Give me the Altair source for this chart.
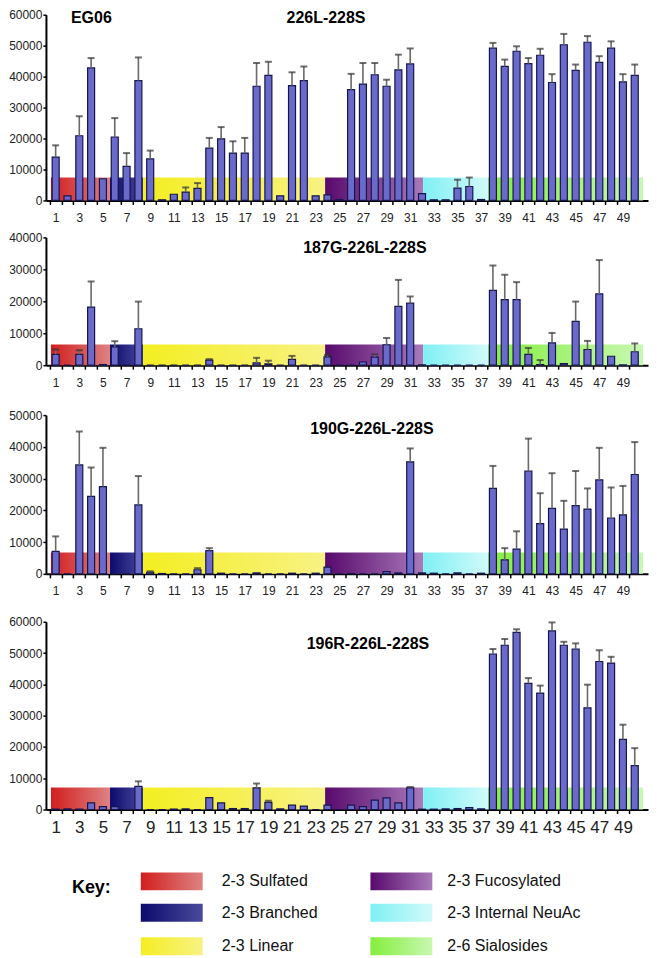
import altair as alt
import pandas as pd

# ---------------- data ----------------
positions = list(range(1, 51))

group_names = ["2-3 Sulfated", "2-3 Branched", "2-3 Linear",
               "2-3 Fucosylated", "2-3 Internal NeuAc", "2-6 Sialosides"]
group_start = [0.6, 5.6, 8.4, 23.8, 32.1, 37.6]
group_end = [5.6, 8.4, 23.8, 32.1, 37.6, 50.7]
grad_left = ["#d21e1e", "#0c0a6c", "#f4ee22", "#58096c", "#7ff0f4", "#84ee3c"]
grad_right = ["#de8282", "#4a4a9c", "#f8f284", "#a97ab9", "#d2fafa", "#c8f8b2"]

panel_titles = ["226L-228S", "187G-226L-228S", "190G-226L-228S", "196R-226L-228S"]
y_max = [60000, 40000, 50000, 60000]
band_top = [7400, 6500, 6700, 7000]

vals_1 = [14000, 1500, 20900, 42800, 7000, 20500, 11000, 38700, 13400, 200,
          2000, 2700, 3900, 16900, 19900, 15300, 15300, 36900, 40400, 1500,
          37100, 38700, 1500, 1800, 300, 35800, 37600, 40600, 36900, 42200,
          44100, 2200, 200, 200, 4000, 4500, 300, 49200, 43300, 48200,
          44200, 46900, 38100, 50300, 42000, 51100, 44600, 49200, 38300, 40400]
errs_1 = [3800, 0, 6300, 3200, 0, 6100, 4300, 7500, 2700, 0,
          0, 1500, 1700, 3300, 3800, 3800, 4900, 7500, 4400, 0,
          4300, 4600, 0, 0, 0, 5100, 6800, 3800, 2100, 4900,
          5000, 0, 0, 0, 2700, 2900, 0, 1700, 2200, 1600,
          1800, 2100, 2700, 3500, 1900, 2000, 2000, 2200, 2500, 3500]

vals_2 = [3400, 0, 3400, 18200, 200, 5700, 0, 11400, 0, 0,
          0, 0, 0, 1600, 0, 0, 0, 700, 400, 0,
          1800, 0, 0, 2600, 0, 0, 1000, 2500, 6400, 18400,
          19400, 100, 0, 0, 0, 0, 0, 23400, 20500, 20500,
          3400, 200, 7000, 500, 13700, 4900, 22300, 2800, 100, 4200]
errs_2 = [1500, 0, 1300, 8000, 0, 1800, 0, 8500, 0, 0,
          0, 0, 0, 300, 0, 0, 0, 1600, 1000, 0,
          1100, 0, 0, 600, 0, 0, 0, 900, 2100, 8300,
          2100, 0, 0, 0, 0, 0, 0, 7800, 7800, 5500,
          2000, 1400, 3100, 0, 6200, 2700, 10600, 0, 0, 2600]

vals_3 = [7100, 0, 34300, 24400, 27500, 0, 0, 21700, 500, 100,
          0, 0, 1300, 7300, 200, 0, 0, 300, 0, 0,
          200, 0, 200, 2100, 0, 100, 0, 0, 700, 300,
          35300, 300, 200, 0, 300, 0, 200, 26900, 4400, 7800,
          32400, 15800, 20600, 14100, 21500, 20400, 29600, 17600, 18600, 31300]
errs_3 = [4700, 0, 10500, 9100, 12200, 0, 0, 9100, 300, 0,
          0, 0, 500, 800, 0, 0, 0, 0, 0, 0,
          0, 0, 0, 0, 0, 0, 0, 0, 0, 0,
          4200, 0, 0, 0, 0, 0, 0, 7100, 3700, 5600,
          10200, 9600, 11100, 8900, 10900, 6500, 10100, 9600, 9100, 10200]

vals_4 = [100, 200, 100, 2100, 900, 900, 0, 7400, 0, 0,
          100, 200, 0, 3800, 2100, 300, 300, 6900, 2300, 200,
          1400, 1100, 0, 1400, 0, 1400, 900, 3000, 3700, 2100,
          6900, 100, 100, 200, 300, 600, 200, 49700, 52500, 56600,
          40300, 37200, 57100, 52500, 51300, 32500, 47300, 46800, 22400, 14000]
errs_4 = [0, 0, 0, 0, 0, 0, 0, 1600, 0, 0,
          0, 0, 0, 0, 0, 0, 0, 1400, 500, 0,
          0, 0, 0, 0, 0, 0, 0, 0, 0, 0,
          300, 0, 0, 0, 0, 0, 0, 1600, 2000, 1000,
          1700, 2400, 2700, 1100, 1800, 7400, 3600, 2000, 4700, 5600]

all_vals = [vals_1, vals_2, vals_3, vals_4]
all_errs = [errs_1, errs_2, errs_3, errs_4]

# ---------------- layout ----------------
FONT = "Liberation Sans"
W = 603
X_DOMAIN = [0.6, 50.7]
heights = [186, 128, 159, 188]
top_pad = [0, 14, 27, 25]
title_xy = [(280.5, 3), (319.5, 11), (326.5, 14), (322.5, 22)]
xlab_size = [12, 12, 12, 17]
xlab_pad = [8, 8, 8, 6]
BAR_FILL = "#6a6acb"
BAR_STROKE = "#16164f"
NO_VIEW = alt.ViewBackground(stroke="transparent", strokeWidth=0)


def gradient(i):
    return alt.LinearGradient(
        gradient="linear",
        stops=[alt.GradientStop(color=grad_left[i], offset=0),
               alt.GradientStop(color=grad_right[i], offset=1)],
        x1=0, x2=1, y1=0, y2=0)


def panel(k):
    df = pd.DataFrame({"pos": positions, "v": all_vals[k], "err": all_errs[k]})
    df["hi"] = df["v"] + df["err"]
    xscale = alt.Scale(domain=X_DOMAIN, nice=False, zero=False)
    yscale = alt.Scale(domain=[0, y_max[k]], nice=False)
    xaxis = alt.Axis(values=positions, title=None,
                     labelExpr="datum.value % 2 == 1 ? datum.label : ''",
                     tickOffset=-6, labelOffset=6, tickSize=4, tickWidth=1.5,
                     tickColor="black", domainColor="black", domainWidth=2,
                     labelFontSize=xlab_size[k], labelPadding=xlab_pad[k],
                     labelOverlap=False, labelFlush=False, grid=False,
                     labelColor="#222", labelFont=FONT)
    yaxis = alt.Axis(values=list(range(0, y_max[k] + 1, 10000)), format="d",
                     title=None, grid=False, tickSize=3, tickWidth=1.5,
                     tickColor="black", labelPadding=1, domainColor="black",
                     domainWidth=2, labelFontSize=12, labelColor="#222",
                     labelFont=FONT)

    band_df = pd.DataFrame({"name": group_names, "start": group_start,
                            "end": group_end,
                            "base": [0] * 6, "top": [band_top[k]] * 6})
    layers = []
    for i in range(6):
        layers.append(
            alt.Chart(band_df.iloc[[i]]).mark_rect(color=gradient(i)).encode(
                x=alt.X("start:Q", scale=xscale, axis=xaxis),
                x2="end:Q",
                y=alt.Y("base:Q", scale=yscale, axis=yaxis),
                y2="top:Q"))

    base = alt.Chart(df)
    bars = base.mark_bar(size=7, fill=BAR_FILL, stroke=BAR_STROKE,
                         strokeWidth=1.2).encode(
        x=alt.X("pos:Q", scale=xscale, axis=xaxis),
        y=alt.Y("v:Q", scale=yscale, axis=yaxis))
    errl = base.transform_filter("datum.err > 0").mark_rule(
        color="#6a6a6a", strokeWidth=1.6).encode(
        x=alt.X("pos:Q", scale=xscale, axis=xaxis),
        y=alt.Y("v:Q", scale=yscale, axis=yaxis), y2="hi:Q")
    caps = base.transform_filter("datum.err > 0").mark_tick(
        orient="horizontal", size=7, thickness=2, color="#333").encode(
        x=alt.X("pos:Q", scale=xscale, axis=xaxis),
        y=alt.Y("hi:Q", scale=yscale, axis=yaxis))
    layers += [bars, errl, caps]

    tx, ty = title_xy[k]
    ttl = alt.Chart(pd.DataFrame({"t": [panel_titles[k]]})).mark_text(
        font=FONT, fontSize=16, fontWeight="bold", align="center",
        baseline="middle", color="black").encode(
        text="t:N", x=alt.value(tx), y=alt.value(ty))
    layers.append(ttl)
    if k == 0:
        eg = alt.Chart(pd.DataFrame({"t": ["EG06"]})).mark_text(
            font=FONT, fontSize=16, fontWeight="bold", align="center",
            baseline="middle", color="black").encode(
            text="t:N", x=alt.value(45.5), y=alt.value(3))
        layers.append(eg)
    if top_pad[k] > 0:
        spacer = alt.Chart(pd.DataFrame({"t": [0]})).mark_rule(
            strokeOpacity=0).encode(
            x=alt.value(0), x2=alt.value(10),
            y=alt.value(-top_pad[k]), y2=alt.value(-top_pad[k]))
        layers.append(spacer)
    return alt.layer(*layers).properties(width=W, height=heights[k],
                                         view=NO_VIEW)


# ---------------- key ----------------
key_df = pd.DataFrame({"name": group_names,
                       "col": [0, 0, 0, 1, 1, 1],
                       "row": [0, 1, 2, 0, 1, 2]})
row_y = [46, 77.5, 111]
key_layers = []
for i in range(6):
    c, r = key_df.loc[i, "col"], key_df.loc[i, "row"]
    x0 = 95 + 230 * c
    key_layers.append(
        alt.Chart(key_df.iloc[[i]]).mark_rect(color=gradient(i)).encode(
            x=alt.value(x0), x2=alt.value(x0 + 62),
            y=alt.value(row_y[r] - 9), y2=alt.value(row_y[r] + 9)))
    key_layers.append(
        alt.Chart(key_df.iloc[[i]]).mark_text(
            font=FONT, fontSize=16, align="left", baseline="middle",
            color="#111").encode(
            text="name:N", x=alt.value(176 + 226 * c), y=alt.value(row_y[r])))
key_layers.append(
    alt.Chart(pd.DataFrame({"t": ["Key:"]})).mark_text(
        font=FONT, fontSize=18, fontWeight="bold", align="center",
        baseline="middle", color="black").encode(
        text="t:N", x=alt.value(45.5), y=alt.value(53)))
key_chart = alt.layer(*key_layers).properties(width=W, height=120,
                                              view=NO_VIEW)

chart = alt.vconcat(panel(0), panel(1), panel(2), panel(3), key_chart,
                    spacing=0).resolve_scale(
    x="independent", y="independent").properties(
    padding={"left": 0, "top": 0, "right": 4, "bottom": 0}).configure_view(
    strokeWidth=0, stroke="transparent").configure(font=FONT)

chart.save("out.html", embed_options={"renderer": "svg", "actions": False})
